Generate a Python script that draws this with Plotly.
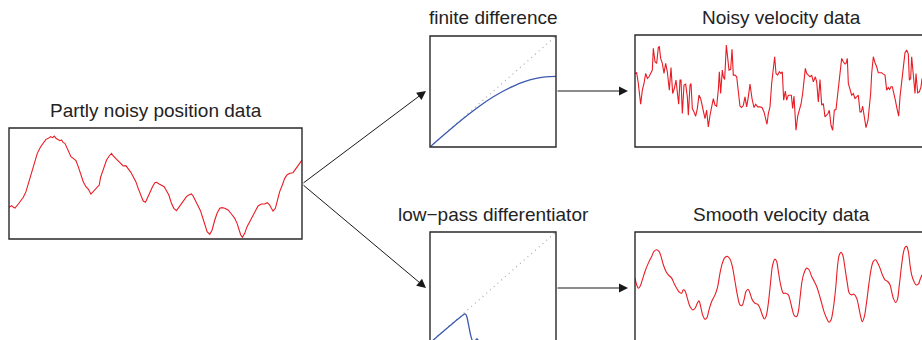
import plotly.graph_objects as go

# ---------------- data (arbitrary units) ----------------
pos_t = [0, 8, 13, 18, 28, 43, 51, 58, 68, 76, 85, 95, 103, 111, 118, 125, 131, 136, 141, 148,
         153, 158, 163, 168, 173, 180, 186, 193, 201, 208, 215, 223, 231, 238, 246, 253, 263, 271,
         275, 283, 293, 301, 308, 313, 320, 328, 335, 343, 351, 358, 366, 373, 381, 388, 395, 403,
         410, 416, 423, 431, 438, 443, 451, 458, 466, 473, 480, 488, 495, 503, 510, 518, 525, 533,
         540, 548, 553, 560, 568, 575, 581, 588, 595, 603, 610, 618, 625, 633, 640, 648, 658, 668,
         678, 685, 691, 696, 701, 708, 715, 723, 731, 738, 748, 758, 768, 776, 783, 788, 793, 800,
         806, 813, 821, 828, 835, 843, 853, 860, 866, 873, 880]
pos_v = [95, 100, 95, 93, 105, 125, 142, 167, 197, 232, 257, 277, 287, 299, 302, 307, 304, 309, 302, 299,
         295, 297, 289, 287, 277, 262, 247, 242, 235, 217, 197, 172, 157, 150, 135, 142, 152, 162,
         185, 207, 237, 249, 257, 249, 242, 232, 224, 219, 220, 212, 200, 187, 172, 152, 132, 114,
         110, 125, 142, 157, 169, 170, 165, 162, 157, 145, 132, 107, 92, 85, 95, 105, 115, 127,
         132, 135, 129, 117, 99, 85, 67, 42, 22, 14, 27, 57, 77, 92, 94, 92, 87, 75,
         62, 47, 27, 12, 5, 17, 37, 52, 67, 82, 99, 105, 105, 109, 102, 92, 84, 92,
         117, 142, 162, 182, 192, 197, 199, 207, 217, 227, 237]

freq = [0, 0.083, 0.167, 0.25, 0.333, 0.417, 0.5, 0.583, 0.667, 0.75, 0.833, 0.917, 1.0]
ideal_gain = [0, 0.083, 0.167, 0.25, 0.333, 0.417, 0.5, 0.583, 0.667, 0.75, 0.833, 0.917, 1.0]
fd_gain = [0, 0.083, 0.165, 0.244, 0.318, 0.388, 0.450, 0.505, 0.551, 0.588, 0.615, 0.631, 0.637]

lp_freq = [0, 0.05, 0.1, 0.15, 0.2, 0.24, 0.26, 0.275, 0.285, 0.295, 0.31, 0.325, 0.337, 0.35,
           0.362, 0.373, 0.385, 0.4, 0.42, 0.45, 0.5, 0.6, 0.8, 1.0]
lp_gain = [0, 0.05, 0.1, 0.148, 0.195, 0.232, 0.25, 0.262, 0.256, 0.225, 0.14, 0.06, 0.02, 0.005,
           0.025, 0.036, 0.02, 0.0, -0.01, 0.004, 0, 0, 0, 0]

nv_t = [0, 5, 10, 17, 22, 27, 32, 37, 42, 47, 52, 55, 60, 65, 70, 73, 77, 82, 87, 92, 97, 103, 108,
        113, 118, 123, 127, 131, 135, 138, 142, 147, 152, 157, 160, 165, 168, 172, 177, 182, 187,
        192, 197, 202, 207, 210, 215, 220, 225, 230, 235, 240, 245, 250, 253, 257, 262, 265, 269,
        274, 278, 282, 287, 291, 295, 300, 305, 310, 315, 320, 325, 330, 335, 340, 345, 351, 357,
        362, 368, 375, 381, 387, 392, 396, 400, 405, 410, 415, 419, 423, 428, 433, 438, 442, 446,
        451, 455, 460, 465, 469, 473, 477, 483, 488, 493, 498, 503, 507, 511, 515, 520, 525, 530,
        535, 541, 545, 550, 555, 560, 565, 570, 575, 579, 583, 588, 593, 598, 603, 608, 615, 620,
        625, 630, 633, 637, 640, 645, 650, 655, 660, 665, 670, 675, 679, 683, 688, 693, 699, 703,
        707, 710, 715, 720, 725, 730, 735, 740, 745, 750, 755, 760, 764, 768, 772, 776, 781, 786,
        791, 795, 800, 805, 810, 815, 820, 823, 827, 830, 835, 840, 843, 848, 853, 858, 861]
nv_v = [220, 222, 190, 128, 170, 190, 220, 205, 210, 220, 230, 295, 255, 250, 298, 300, 265, 250,
        220, 250, 225, 170, 238, 160, 175, 200, 170, 128, 200, 200, 100, 185, 188, 150, 95, 185, 190,
        115, 105, 92, 115, 155, 145, 120, 95, 85, 110, 60, 95, 120, 145, 125, 122, 172, 225, 160, 230,
        210, 202, 305, 255, 230, 232, 292, 215, 215, 210, 160, 122, 118, 125, 150, 120, 150, 188, 145,
        118, 128, 120, 120, 118, 105, 80, 68, 100, 120, 190, 230, 270, 220, 215, 225, 220, 225, 140,
        167, 140, 155, 155, 155, 115, 152, 50, 92, 110, 128, 160, 210, 235, 220, 215, 210, 215, 195,
        210, 195, 135, 202, 125, 130, 90, 95, 100, 110, 65, 50, 110, 112, 160, 220, 265, 255, 248,
        250, 265, 190, 170, 155, 160, 145, 150, 155, 105, 105, 122, 90, 58, 80, 115, 160, 220, 270,
        252, 240, 222, 222, 222, 218, 215, 170, 178, 172, 180, 180, 165, 140, 115, 92, 150, 200,
        250, 282, 290, 278, 200, 205, 270, 205, 160, 220, 162, 165, 180, 205]

sv_t = [0, 5, 10, 15, 22, 30, 40, 50, 57, 65, 72, 78, 85, 93, 100, 110, 117, 125, 133, 140, 145, 150,
        157, 165, 173, 180, 187, 192, 197, 203, 210, 215, 222, 230, 240, 247, 255, 262, 270, 278, 285,
        292, 300, 308, 315, 321, 327, 333, 339, 345, 352, 360, 368, 375, 382, 388, 393, 400, 407, 413,
        420, 425, 430, 437, 445, 452, 460, 465, 471, 478, 485, 490, 495, 501, 507, 515, 522, 530, 538,
        545, 553, 560, 567, 575, 582, 588, 595, 602, 608, 613, 618, 623, 630, 637, 643, 650, 657, 665,
        671, 677, 682, 688, 695, 702, 708, 715, 722, 728, 735, 742, 750, 758, 765, 770, 775, 782, 787,
        793, 800, 805, 810, 815, 820, 825, 830, 837, 843, 850, 855, 861]
sv_v = [195, 175, 165, 170, 190, 215, 240, 260, 275, 280, 275, 260, 235, 215, 205, 195, 180, 165,
        153, 150, 160, 157, 135, 110, 100, 105, 120, 127, 110, 85, 72, 75, 100, 125, 145, 165, 210,
        240, 257, 260, 252, 230, 185, 140, 115, 113, 130, 155, 162, 150, 130, 120, 117, 105, 85,
        73, 80, 120, 185, 235, 252, 245, 215, 175, 150, 150, 145, 130, 105, 83, 80, 95, 135, 185,
        210, 225, 220, 200, 185, 170, 145, 120, 95, 75, 63, 70, 105, 165, 235, 265, 272, 265, 225,
        180, 150, 145, 147, 135, 110, 80, 65, 80, 125, 180, 220, 245, 250, 240, 225, 205, 190, 185,
        175, 155, 135, 122, 130, 175, 235, 270, 287, 290, 275, 235, 205, 185, 175, 177, 190, 205]

# ---------------- layout helpers ----------------
W, H = 922, 340
def fx(p):
    return p / W
def fy(p):
    return 1 - p / H

RED = "rgb(232,28,36)"
BLUE = "rgb(60,90,175)"
DOT = "rgb(170,170,170)"
EDGE = "rgb(40,40,40)"

fig = go.Figure()

fig.add_trace(go.Scatter(x=pos_t, y=pos_v, mode="lines", line=dict(color=RED, width=1.1),
                         xaxis="x", yaxis="y", hoverinfo="skip"))
fig.add_trace(go.Scatter(x=freq, y=ideal_gain, mode="lines", line=dict(color=DOT, width=1.2, dash="1px,4px"),
                         xaxis="x2", yaxis="y2", hoverinfo="skip"))
fig.add_trace(go.Scatter(x=freq, y=fd_gain, mode="lines", line=dict(color=BLUE, width=1.3, shape="spline"),
                         xaxis="x2", yaxis="y2", hoverinfo="skip"))
fig.add_trace(go.Scatter(x=nv_t, y=nv_v, mode="lines", line=dict(color=RED, width=1.1),
                         xaxis="x3", yaxis="y3", hoverinfo="skip"))
fig.add_trace(go.Scatter(x=freq, y=ideal_gain, mode="lines", line=dict(color=DOT, width=1.2, dash="1px,4px"),
                         xaxis="x4", yaxis="y4", hoverinfo="skip"))
fig.add_trace(go.Scatter(x=lp_freq, y=lp_gain, mode="lines", line=dict(color=BLUE, width=1.3, shape="spline"),
                         xaxis="x4", yaxis="y4", hoverinfo="skip"))
fig.add_trace(go.Scatter(x=sv_t, y=sv_v, mode="lines", line=dict(color=RED, width=1.1, shape="spline"),
                         xaxis="x5", yaxis="y5", hoverinfo="skip"))

def ax(domain, rng):
    return dict(domain=domain, range=rng, visible=False, showgrid=False, zeroline=False, fixedrange=True)

fig.update_layout(
    width=W, height=H, margin=dict(l=0, r=0, t=0, b=0),
    paper_bgcolor="white", plot_bgcolor="white", showlegend=False,
    font=dict(family="Liberation Sans, Arial, sans-serif", size=19, color="rgb(35,35,35)"),
    xaxis=ax([fx(9), fx(302)], [0, 880]), yaxis=ax([fy(239), fy(128)], [0, 333]),
    xaxis2=ax([fx(430), fx(556)], [0, 1]), yaxis2=ax([fy(147), fy(36)], [0, 1]),
    xaxis3=ax([fx(635), 1], [0, 861]), yaxis3=ax([fy(147), fy(35)], [0, 335]),
    xaxis4=ax([fx(430), fx(556)], [0, 1]), yaxis4=ax([0, fy(232)], [0.027, 1]),
    xaxis5=ax([fx(635), 1], [0, 861]), yaxis5=ax([0, fy(232)], [10, 333]),
)
for a in ["xaxis", "xaxis2", "xaxis3", "xaxis4", "xaxis5"]:
    fig.layout[a].anchor = "y" + a[5:]
for a in ["yaxis", "yaxis2", "yaxis3", "yaxis4", "yaxis5"]:
    fig.layout[a].anchor = "x" + a[5:]

boxes = [(9, 128, 302, 239), (430, 36, 556, 147), (635, 35, 928, 147),
         (430, 232, 556, 343), (635, 232, 928, 343)]
for (x0, y0, x1, y1) in boxes:
    fig.add_shape(type="rect", xref="paper", yref="paper", x0=fx(x0), x1=fx(x1), y0=fy(y1), y1=fy(y0),
                  line=dict(color=EDGE, width=1.4), fillcolor="rgba(0,0,0,0)", layer="above")

titles = [("Partly noisy position data", 155.5, 111), ("finite difference", 493, 17),
          ("Noisy velocity data", 781.5, 17), ("low\u2212pass differentiator", 493, 214),
          ("Smooth velocity data", 781.5, 214)]
for (txt, cx, cy) in titles:
    fig.add_annotation(text=txt, xref="paper", yref="paper", x=fx(cx), y=fy(cy),
                       xanchor="center", yanchor="middle", showarrow=False)

arrows = [((302, 184), (426, 91)), ((302, 184), (426, 288)),
          ((556, 91), (628, 91)), ((556, 288), (628, 288))]
for (tail, tip) in arrows:
    fig.add_annotation(text="", xref="paper", yref="paper", x=fx(tip[0]), y=fy(tip[1]),
                       ax=tail[0] - tip[0], ay=tail[1] - tip[1], axref="pixel", ayref="pixel",
                       showarrow=True, arrowhead=2, arrowsize=1.8, arrowwidth=1,
                       arrowcolor="rgb(25,25,25)", standoff=0)

fig.write_html("out.html")
